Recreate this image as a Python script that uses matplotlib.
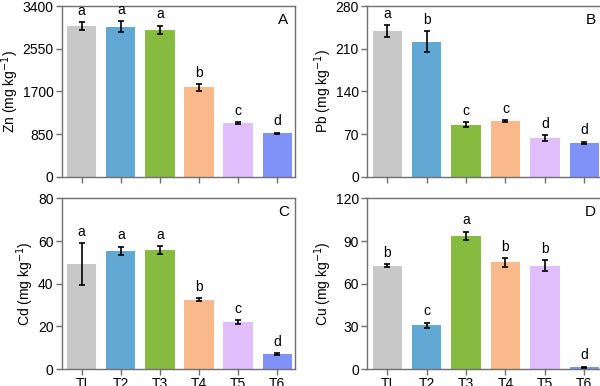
import matplotlib
matplotlib.use('Agg')
import matplotlib.pyplot as plt

plt.rcParams.update({
    'font.family': ['Liberation Sans', 'DejaVu Sans'],
    'font.size': 10,
    'axes.edgecolor': '#707070',
    'axes.linewidth': 1.0,
    'xtick.color': '#707070',
    'ytick.color': '#707070',
    'xtick.labelcolor': 'black',
    'ytick.labelcolor': 'black',
})

treatments = ['TI', 'T2', 'T3', 'T4', 'T5', 'T6']
colors = ['#c8c8c8', '#62a8d4', '#86bb3f', '#f9b98a', '#e0bdfb', '#8092f8']

zn_mean = [3000, 2990, 2928, 1780, 1075, 870]
zn_err = [80, 110, 85, 70, 20, 10]
zn_sig = ['a', 'a', 'a', 'b', 'c', 'd']

pb_mean = [239.5, 221.5, 85.3, 91.4, 63, 55.8]
pb_err = [10, 17, 4, 2, 5, 2]
pb_sig = ['a', 'b', 'c', 'c', 'd', 'd']

cd_mean = [49.2, 55.4, 55.8, 32.5, 22.0, 7.0]
cd_err = [10, 2, 2, 0.7, 0.8, 0.3]
cd_sig = ['a', 'a', 'a', 'b', 'c', 'd']

cu_mean = [72.6, 30.7, 93.7, 75, 72.6, 1.2]
cu_err = [1, 2, 3, 3, 4, 0.5]
cu_sig = ['b', 'c', 'a', 'b', 'b', 'd']

panels = [
    ('A', 'Zn', zn_mean, zn_err, zn_sig, [0, 850, 1700, 2550, 3400]),
    ('B', 'Pb', pb_mean, pb_err, pb_sig, [0, 70, 140, 210, 280]),
    ('C', 'Cd', cd_mean, cd_err, cd_sig, [0, 20, 40, 60, 80]),
    ('D', 'Cu', cu_mean, cu_err, cu_sig, [0, 30, 60, 90, 120]),
]

rects = [
    [0.103, 0.542, 0.389, 0.442],
    [0.612, 0.542, 0.392, 0.442],
    [0.103, 0.044, 0.389, 0.442],
    [0.612, 0.044, 0.392, 0.442],
]

fig = plt.figure(figsize=(6, 3.86), dpi=100)

for i, (rect, (tag, metal, mean, err, sig, yt)) in enumerate(zip(rects, panels)):
    ax = fig.add_axes(rect)
    x = range(len(treatments))
    ax.bar(x, mean, width=0.75, color=colors, zorder=2)
    ax.errorbar(x, mean, yerr=err, fmt='none', ecolor='black',
                elinewidth=1.2, capsize=2, capthick=1.2, zorder=3)
    for xi, m, e, s in zip(x, mean, err, sig):
        ax.annotate(s, (xi, m + e), xytext=(0, 3), textcoords='offset points',
                    ha='center', va='bottom', fontsize=10)
    ax.set_xlim(-0.51, 5.46)
    ax.set_ylim(yt[0], yt[-1])
    ax.set_yticks(yt)
    ax.set_xticks(list(x))
    if i < 2:
        ax.set_xticklabels([])
    else:
        ax.set_xticklabels(treatments)
    ax.tick_params(direction='out', length=4, width=1, pad=2)
    ax.set_ylabel(metal + r' (mg kg$^{-1}$)', labelpad=1)
    ax.text(0.95, 0.92, tag, transform=ax.transAxes, ha='center', va='center',
            fontsize=11)

fig.savefig('out.png', dpi=100)
